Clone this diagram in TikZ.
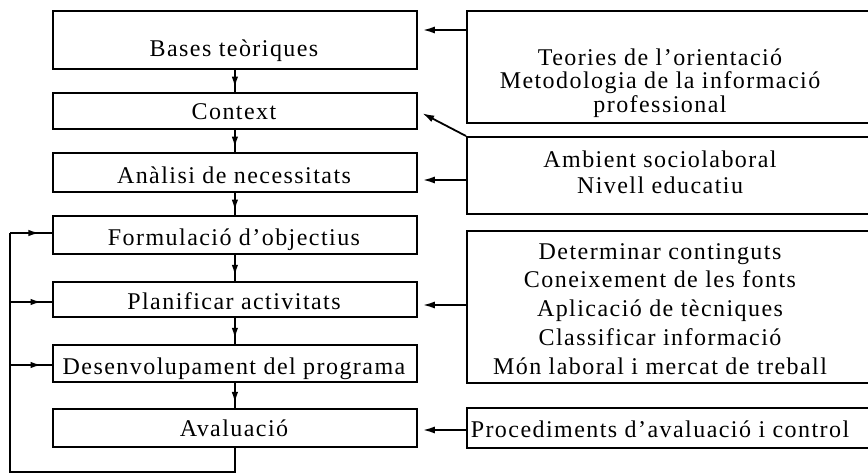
\documentclass[tikz,border=0pt]{standalone}
\usepackage{fontspec}
\setmainfont{Liberation Serif}[LetterSpace=6]
\usetikzlibrary{arrows.meta,decorations.markings,calc}
\tikzset{
  box/.style={draw, line width=1.8pt, rectangle, inner sep=0pt, anchor=north west},
  lbl/.style={anchor=base, inner sep=0pt, font=\fontsize{24}{24}\selectfont},
  conn/.style={line width=1.8pt},
  midarrow/.style={conn, postaction={decorate},
    decoration={markings, mark=at position #1 with {\arrow{Latex[length=11pt,width=6.5pt]}}}},
  midarrow/.default=0.7,
  endarrow/.style={conn, -{Latex[length=12pt,width=7pt]}, shorten >=5pt},
}
\begin{document}
\begin{tikzpicture}[x=1pt,y=-1pt]
\useasboundingbox (0,0) rectangle (868,474);
\clip (0,0) rectangle (868,474);
% left boxes
\node[box, minimum width=364pt, minimum height=58pt] (b1) at (52,10) {};
\node[box, minimum width=364pt, minimum height=36pt] (b2) at (52,92) {};
\node[box, minimum width=364pt, minimum height=39pt] (b3) at (52,152) {};
\node[box, minimum width=364pt, minimum height=38pt] (b4) at (52,215) {};
\node[box, minimum width=364pt, minimum height=35pt] (b5) at (52,281) {};
\node[box, minimum width=364pt, minimum height=37pt] (b6) at (52,344) {};
\node[box, minimum width=364pt, minimum height=38pt] (b7) at (52,408) {};
\node[lbl] (t1) at (234,56) {Bases teòriques};
\node[lbl] (t2) at (234,119) {Context};
\node[lbl] (t3) at (234,183) {Anàlisi de necessitats};
\node[lbl] (t4) at (234,245) {Formulació d’objectius};
\node[lbl] (t5) at (234,309) {Planificar activitats};
\node[lbl] (t6) at (234,374) {Desenvolupament del programa};
\node[lbl] (t7) at (234,436) {Avaluació};
% right boxes
\node[box, minimum width=420pt, minimum height=112pt] (r1) at (466,10) {};
\node[box, minimum width=420pt, minimum height=77pt] (r2) at (466,136) {};
\node[box, minimum width=420pt, minimum height=152pt] (r3) at (466,230) {};
\node[box, minimum width=420pt, minimum height=40pt] (r4) at (466,407) {};
\node[lbl, align=center, font=\fontsize{24}{23.5}\selectfont] (s1) at (660,112)
  {Teories de l’orientació\\Metodologia de la informació\\professional};
\node[lbl, align=center, font=\fontsize{24}{26}\selectfont] (s2) at (660,193)
  {Ambient sociolaboral\\Nivell educatiu};
\node[lbl, align=center, font=\fontsize{24}{28.75}\selectfont] (s3) at (660,374)
  {Determinar continguts\\Coneixement de les fonts\\Aplicació de tècniques\\Classificar informació\\Món laboral i mercat de treball};
\node[lbl] (s4) at (660,437) {Procediments d’avaluació i control};
% vertical flow
\draw[midarrow=0.8] (b1.south) -- (b2.north);
\draw[midarrow=0.8] (b2.south) -- (b3.north);
\draw[midarrow=0.8] (b3.south) -- (b4.north);
\draw[midarrow=0.8] (b4.south) -- (b5.north);
\draw[midarrow=0.8] (b5.south) -- (b6.north);
\draw[midarrow=0.8] (b6.south) -- (b7.north);
% right inputs
\draw[endarrow] (r1.west |- 0,30) -- (b1.east |- 0,30);
\draw[endarrow] (r2.north west) -- (b2.east);
\draw[endarrow] (r2.west |- 0,180) -- (b3.east |- 0,180);
\draw[endarrow] (r3.west |- 0,305) -- (b5.east |- 0,305);
\draw[endarrow] (r4.west |- 0,430) -- (b7.east |- 0,430);
% feedback loop
\coordinate (fbB) at (10,472);
\coordinate (fbT) at (10,233);
\draw[conn, line join=miter] (b7.south) |- (fbB) -- (fbT);
\draw[midarrow=0.7, line join=miter] (fbT) -- (fbT -| b4.west);
\draw[midarrow=0.75] (fbB |- 0,302) -- (b5.west |- 0,302);
\draw[midarrow=0.75] (fbB |- 0,365) -- (b6.west |- 0,365);
\end{tikzpicture}
\end{document}
